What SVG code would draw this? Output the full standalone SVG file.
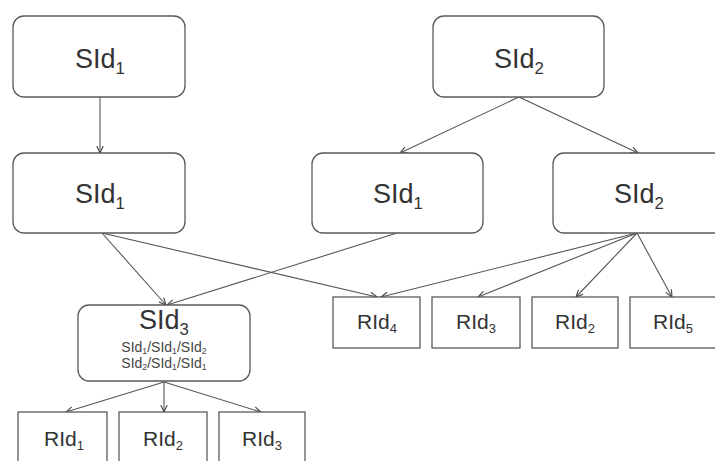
<svg xmlns="http://www.w3.org/2000/svg" width="715" height="461" viewBox="0 0 715 461">
  <defs>
    <marker id="arr" viewBox="0 0 8 8" refX="7.5" refY="4" markerWidth="8" markerHeight="8" markerUnits="userSpaceOnUse" orient="auto">
      <path d="M0.5,0.8 L7.5,4 L0.5,7.2" fill="none" stroke="#444" stroke-width="1.1"/>
    </marker>
    <style>
      .sbox { fill: #ffffff; stroke: #5a5a5a; stroke-width: 1.3; }
      .rbox { fill: #ffffff; stroke: #5a5a5a; stroke-width: 1.3; }
      .big { font-family: "Liberation Sans", Arial, sans-serif; font-size: 27px; fill: #333; text-anchor: middle; }
      .mid { font-family: "Liberation Sans", Arial, sans-serif; font-size: 27px; fill: #333; text-anchor: middle; }
      .rid { font-family: "Liberation Sans", Arial, sans-serif; font-size: 21px; fill: #333; text-anchor: middle; }
      .path { font-family: "Liberation Sans", Arial, sans-serif; font-size: 14px; fill: #444; text-anchor: middle; }
      .sub { font-size: 62%; }
      .edge { fill: none; stroke: #555; stroke-width: 1.1; marker-end: url(#arr); }
    </style>
  </defs>
  <rect width="715" height="461" fill="#ffffff"/>

  <!-- connectors -->
  <g id="connectors">
    <line class="edge" x1="100" y1="97" x2="100" y2="153"/>
    <line class="edge" x1="519" y1="97" x2="400" y2="153"/>
    <line class="edge" x1="519" y1="97" x2="638" y2="153"/>
    <line class="edge" x1="102" y1="233" x2="166" y2="305"/>
    <line class="edge" x1="102" y1="233" x2="377" y2="297"/>
    <line class="edge" x1="397" y1="233" x2="167" y2="305"/>
    <line class="edge" x1="637" y1="233" x2="381" y2="297"/>
    <line class="edge" x1="637" y1="233" x2="478" y2="297"/>
    <line class="edge" x1="637" y1="233" x2="576" y2="297"/>
    <line class="edge" x1="637" y1="233" x2="672" y2="297"/>
    <line class="edge" x1="164" y1="382" x2="66" y2="412"/>
    <line class="edge" x1="164" y1="382" x2="164" y2="412"/>
    <line class="edge" x1="164" y1="382" x2="261" y2="412"/>
  </g>

  <!-- top row -->
  <g id="s1-top">
    <rect class="sbox" x="13" y="16" width="172" height="81" rx="11"/>
    <text class="big" x="100" y="68">SId<tspan class="sub" dy="6">1</tspan></text>
  </g>
  <g id="s2-top">
    <rect class="sbox" x="433" y="16" width="171" height="81" rx="11"/>
    <text class="big" x="519" y="68">SId<tspan class="sub" dy="6">2</tspan></text>
  </g>

  <!-- second row -->
  <g id="s1-left">
    <rect class="sbox" x="13" y="153" width="172" height="80" rx="11"/>
    <text class="big" x="100" y="203">SId<tspan class="sub" dy="6">1</tspan></text>
  </g>
  <g id="s1-mid">
    <rect class="sbox" x="312" y="153" width="171" height="80" rx="11"/>
    <text class="big" x="398" y="203">SId<tspan class="sub" dy="6">1</tspan></text>
  </g>
  <g id="s2-right">
    <rect class="sbox" x="553" y="153" width="172" height="80" rx="11"/>
    <text class="big" x="639" y="203">SId<tspan class="sub" dy="6">2</tspan></text>
  </g>

  <!-- merged node -->
  <g id="s3">
    <rect class="sbox" x="78" y="305" width="172" height="76" rx="11"/>
    <text class="mid" x="164" y="329">SId<tspan class="sub" dy="6">3</tspan></text>
    <text class="path" x="164" y="352">SId<tspan class="sub" dy="2">1</tspan><tspan dy="-2">/SId</tspan><tspan class="sub" dy="2">1</tspan><tspan dy="-2">/SId</tspan><tspan class="sub" dy="2">2</tspan></text>
    <text class="path" x="164" y="368">SId<tspan class="sub" dy="2">2</tspan><tspan dy="-2">/SId</tspan><tspan class="sub" dy="2">1</tspan><tspan dy="-2">/SId</tspan><tspan class="sub" dy="2">1</tspan></text>
  </g>

  <!-- right-hand resource boxes -->
  <g id="r4">
    <rect class="rbox" x="333" y="297" width="87" height="51"/>
    <text class="rid" x="377" y="329">RId<tspan class="sub" dy="4">4</tspan></text>
  </g>
  <g id="r3a">
    <rect class="rbox" x="432" y="297" width="88" height="51"/>
    <text class="rid" x="476" y="329">RId<tspan class="sub" dy="4">3</tspan></text>
  </g>
  <g id="r2a">
    <rect class="rbox" x="532" y="297" width="86" height="51"/>
    <text class="rid" x="575" y="329">RId<tspan class="sub" dy="4">2</tspan></text>
  </g>
  <g id="r5">
    <rect class="rbox" x="630" y="297" width="87" height="51"/>
    <text class="rid" x="673" y="329">RId<tspan class="sub" dy="4">5</tspan></text>
  </g>

  <!-- bottom resource boxes -->
  <g id="r1">
    <rect class="rbox" x="18" y="412" width="89" height="53"/>
    <text class="rid" x="64" y="446">RId<tspan class="sub" dy="4">1</tspan></text>
  </g>
  <g id="r2b">
    <rect class="rbox" x="119" y="412" width="88" height="53"/>
    <text class="rid" x="163" y="446">RId<tspan class="sub" dy="4">2</tspan></text>
  </g>
  <g id="r3b">
    <rect class="rbox" x="219" y="412" width="86" height="53"/>
    <text class="rid" x="262" y="446">RId<tspan class="sub" dy="4">3</tspan></text>
  </g>
</svg>
